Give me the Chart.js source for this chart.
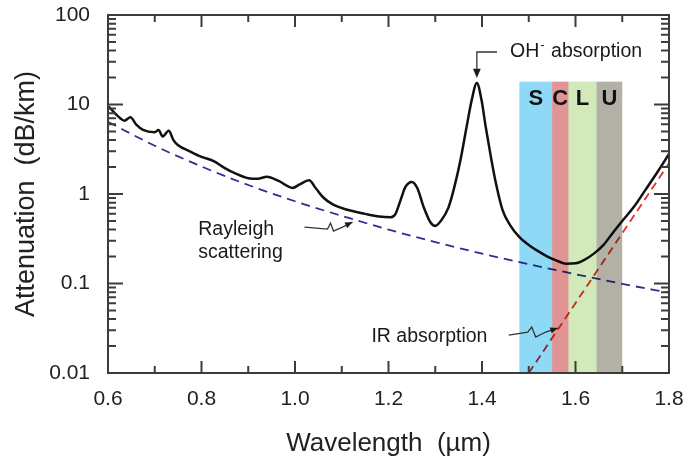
<!DOCTYPE html>
<html>
<head>
<meta charset="utf-8">
<script src="https://cdn.jsdelivr.net/npm/chart.js@4.4.1/dist/chart.umd.min.js"></script>
<style>
  html, body { margin: 0; padding: 0; background: #fff; }
</style>
</head>
<body>
<canvas id="attChart" width="686" height="459"></canvas>
<script>
// total attenuation (black curve)
const totalX = [0.600, 0.610, 0.620, 0.635, 0.648, 0.660, 0.675, 0.700, 0.708, 0.717, 0.730, 0.740, 0.750,
  0.775, 0.800, 0.825, 0.850, 0.870, 0.900, 0.920, 0.940, 0.965, 0.995, 1.010, 1.030, 1.045, 1.060, 1.080,
  1.110, 1.150, 1.180, 1.205, 1.215, 1.226, 1.236, 1.250, 1.262, 1.275, 1.290, 1.300, 1.312, 1.328, 1.340,
  1.354, 1.367, 1.378, 1.389, 1.399, 1.408, 1.419, 1.430, 1.444, 1.460, 1.480, 1.500, 1.520, 1.540, 1.560,
  1.580, 1.600, 1.620, 1.640, 1.660, 1.680, 1.700, 1.725, 1.750, 1.775, 1.800];
const totalY = [9.6, 8.5, 7.5, 6.6, 7.2, 6.0, 5.2, 4.9, 5.2, 4.4, 5.1, 4.0, 3.5,
  3.0, 2.6, 2.35, 1.95, 1.72, 1.50, 1.48, 1.56, 1.40, 1.17, 1.28, 1.42, 1.15, 0.92, 0.77,
  0.67, 0.60, 0.56, 0.55, 0.60, 0.86, 1.19, 1.36, 1.15, 0.72, 0.48, 0.44, 0.50, 0.70, 1.15,
  2.4, 5.6, 11.2, 17.4, 11.2, 5.6, 2.6, 1.3, 0.66, 0.45, 0.33, 0.27, 0.23, 0.20, 0.18,
  0.166, 0.168, 0.185, 0.217, 0.27, 0.37, 0.5, 0.72, 1.12, 1.75, 2.8];

// Rayleigh scattering (blue dashed)
const rayleighX = [0.6, 0.7, 0.8, 0.9, 1.0, 1.1, 1.2, 1.3, 1.4, 1.5, 1.6, 1.7, 1.8];
const rayleighY = [6.4, 3.46, 2.03, 1.26, 0.83, 0.57, 0.40, 0.29, 0.216, 0.164, 0.127, 0.099, 0.079];

// IR absorption (red dashed)
const irX = [1.5, 1.8];
const irY = [0.01, 2.2];

// telecom bands
const bandNames = ['S', 'C', 'L', 'U'];
const bandStart = [1.48, 1.55, 1.585, 1.645];
const bandEnd = [1.55, 1.585, 1.645, 1.70];
const bandTop = 18;
const bandColors = ['#8ed9f6', '#e09494', '#d2eab9', '#b3b1a6'];

const xTicks = [0.6, 0.8, 1.0, 1.2, 1.4, 1.6, 1.8];
const yTicks = [0.01, 0.1, 1, 10, 100];

const FONT = '"Liberation Sans", Arial, sans-serif';
const AXIS = '#3c3c3c';

const pts = (xs, ys) => xs.map((x, i) => ({ x: x, y: ys[i] }));

function arrowHead(ctx, x0, y0, x1, y1, size) {
  const ang = Math.atan2(y1 - y0, x1 - x0);
  ctx.beginPath();
  ctx.moveTo(x1, y1);
  ctx.lineTo(x1 - size * Math.cos(ang - 0.4), y1 - size * Math.sin(ang - 0.4));
  ctx.lineTo(x1 - size * Math.cos(ang + 0.4), y1 - size * Math.sin(ang + 0.4));
  ctx.closePath();
  ctx.fill();
}

function squiggle(ctx, tx, ty, offs) {
  ctx.beginPath();
  ctx.moveTo(tx + offs[0][0], ty + offs[0][1]);
  for (let i = 1; i < offs.length; i++) ctx.lineTo(tx + offs[i][0], ty + offs[i][1]);
  ctx.lineTo(tx, ty);
  ctx.stroke();
  const last = offs[offs.length - 1];
  arrowHead(ctx, tx + last[0], ty + last[1], tx, ty, 8);
}

const extras = {
  id: 'extras',
  afterDatasetsDraw(chart) {
    const { ctx, chartArea: a, scales: { x, y } } = chart;

    // bands, multiplied over the curves
    ctx.save();
    ctx.globalCompositeOperation = 'multiply';
    const top = y.getPixelForValue(bandTop);
    bandNames.forEach((n, i) => {
      const l = x.getPixelForValue(bandStart[i]);
      const r = x.getPixelForValue(bandEnd[i]);
      ctx.fillStyle = bandColors[i];
      ctx.fillRect(l, top, r - l, a.bottom - top);
    });
    ctx.restore();

    ctx.save();
    ctx.fillStyle = '#111';
    ctx.font = 'bold 22px "Liberation Sans Narrow", ' + FONT;
    ctx.textAlign = 'center';
    ctx.textBaseline = 'middle';
    bandNames.forEach((n, i) => {
      const c = (x.getPixelForValue(bandStart[i]) + x.getPixelForValue(bandEnd[i])) / 2;
      ctx.fillText(n, c, top + 17);
    });
    ctx.restore();

    // frame + ticks
    ctx.save();
    ctx.strokeStyle = AXIS;
    ctx.lineWidth = 2;
    ctx.strokeRect(a.left, a.top, a.right - a.left, a.bottom - a.top);
    ctx.beginPath();
    xTicks.forEach((v, i) => {
      const px = x.getPixelForValue(v);
      ctx.moveTo(px, a.bottom); ctx.lineTo(px, a.bottom - 12);
      ctx.moveTo(px, a.top); ctx.lineTo(px, a.top + 12);
      if (i < xTicks.length - 1) {
        const m = x.getPixelForValue((v + xTicks[i + 1]) / 2);
        ctx.moveTo(m, a.bottom); ctx.lineTo(m, a.bottom - 7);
        ctx.moveTo(m, a.top); ctx.lineTo(m, a.top + 7);
      }
    });
    yTicks.forEach((v, i) => {
      const py = y.getPixelForValue(v);
      ctx.moveTo(a.left, py); ctx.lineTo(a.left + 15, py);
      ctx.moveTo(a.right, py); ctx.lineTo(a.right - 15, py);
      if (i < yTicks.length - 1) {
        for (let k = 2; k <= 9; k++) {
          const m = y.getPixelForValue(v * k);
          ctx.moveTo(a.left, m); ctx.lineTo(a.left + 8, m);
          ctx.moveTo(a.right, m); ctx.lineTo(a.right - 8, m);
        }
      }
    });
    ctx.stroke();
    ctx.restore();

    // annotations
    ctx.save();
    ctx.fillStyle = '#1a1a1a';
    ctx.strokeStyle = '#333';
    ctx.lineWidth = 1.3;
    ctx.font = '19.5px ' + FONT;
    ctx.textBaseline = 'middle';

    // OH- absorption
    const tipX = x.getPixelForValue(1.389);
    const tipY = y.getPixelForValue(19.8);
    const elbY = y.getPixelForValue(38.6);
    ctx.beginPath();
    ctx.moveTo(x.getPixelForValue(1.432), elbY);
    ctx.lineTo(tipX, elbY);
    ctx.lineTo(tipX, tipY - 6);
    ctx.stroke();
    arrowHead(ctx, tipX, elbY, tipX, tipY, 10);
    let tx = x.getPixelForValue(1.46);
    ctx.fillText('OH', tx, elbY);
    tx += ctx.measureText('OH').width + 1;
    ctx.font = '13px ' + FONT;
    ctx.fillText('-', tx, elbY - 7);
    tx += ctx.measureText('-').width + 1;
    ctx.font = '19.5px ' + FONT;
    ctx.fillText(' absorption', tx, elbY);

    // Rayleigh scattering
    const rx = x.getPixelForValue(0.793);
    ctx.fillText('Rayleigh', rx, y.getPixelForValue(0.396));
    ctx.fillText('scattering', rx, y.getPixelForValue(0.219));
    squiggle(ctx, x.getPixelForValue(1.123), y.getPixelForValue(0.486),
      [[-48, 5], [-25, 7], [-22, 1], [-19, 9], [-10, 5]]);

    // IR absorption
    ctx.fillText('IR absorption', x.getPixelForValue(1.1635), y.getPixelForValue(0.0252));
    squiggle(ctx, x.getPixelForValue(1.562), y.getPixelForValue(0.0318),
      [[-49, 7], [-30, 4], [-26, -1], [-22, 9], [-12, 4]]);
    ctx.restore();
  }
};

new Chart(document.getElementById('attChart'), {
  type: 'line',
  data: {
    datasets: [
      {
        label: 'Total',
        data: pts(totalX, totalY),
        borderColor: '#111',
        borderWidth: 2.5,
        pointRadius: 0,
        cubicInterpolationMode: 'monotone',
        fill: false
      },
      {
        label: 'Rayleigh scattering',
        data: pts(rayleighX, rayleighY),
        borderColor: '#2f2f93',
        borderWidth: 1.8,
        borderDash: [9, 6],
        pointRadius: 0,
        cubicInterpolationMode: 'monotone',
        fill: false
      },
      {
        label: 'IR absorption',
        data: pts(irX, irY),
        borderColor: '#e2312b',
        borderWidth: 1.8,
        borderDash: [8, 5],
        pointRadius: 0,
        fill: false
      }
    ]
  },
  options: {
    responsive: false,
    animation: false,
    devicePixelRatio: 1,
    layout: { padding: { top: 15, right: 17, left: 0, bottom: 0 } },
    plugins: { legend: { display: false }, tooltip: { enabled: false } },
    scales: {
      x: {
        type: 'linear',
        min: 0.6,
        max: 1.8,
        grid: { display: false },
        border: { display: false },
        afterBuildTicks: (s) => { s.ticks = xTicks.map(v => ({ value: v })); },
        afterFit: (s) => { s.height = 86; s.paddingLeft = 0; s.paddingRight = 0; },
        ticks: {
          padding: 6,
          color: '#222',
          maxRotation: 0,
          font: { family: FONT, size: 21 },
          callback: (v) => Number(v).toFixed(1)
        },
        title: {
          display: true,
          text: 'Wavelength  (µm)',
          color: '#222',
          font: { family: FONT, size: 26 },
          padding: { top: 0, bottom: 0 }
        }
      },
      y: {
        type: 'logarithmic',
        min: 0.01,
        max: 100,
        grid: { display: false },
        border: { display: false },
        afterBuildTicks: (s) => { s.ticks = yTicks.map(v => ({ value: v })); },
        afterFit: (s) => { s.width = 108; s.paddingTop = 0; s.paddingBottom = 0; },
        ticks: {
          padding: 10,
          color: '#222',
          font: { family: FONT, size: 21 },
          callback: (v) => String(v)
        },
        title: {
          display: true,
          text: 'Attenuation  (dB/km)',
          color: '#222',
          font: { family: FONT, size: 27 },
          padding: { top: 10, bottom: 0 }
        }
      }
    }
  },
  plugins: [extras]
});
</script>
</body>
</html>
